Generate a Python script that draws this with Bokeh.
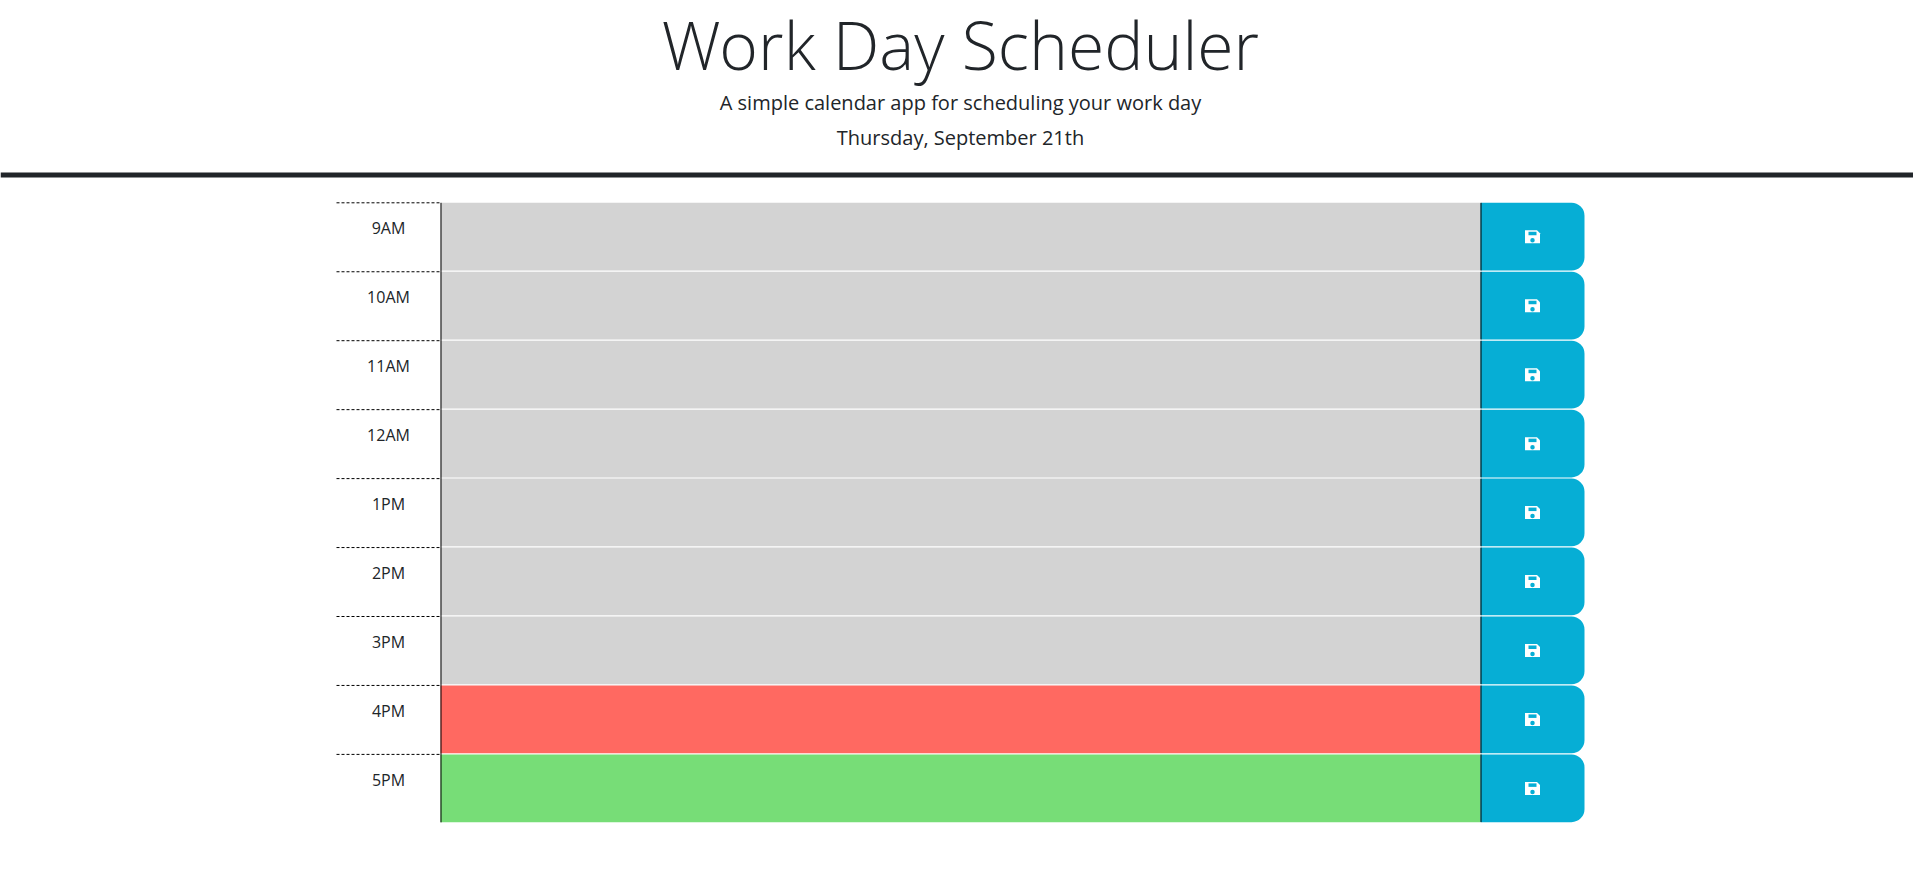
from bokeh.plotting import figure
from bokeh.models import ColumnDataSource, Range1d
from bokeh.core.properties import value
from bokeh.embed import file_html
from bokeh.resources import INLINE

# dados do agendador
titulo = "Work Day Scheduler"
subtitulo = "A simple calendar app for scheduling your work day"
data_hoje = "Thursday, September 21th"
horas = ["9AM", "10AM", "11AM", "12AM", "1PM", "2PM", "3PM", "4PM", "5PM"]
estados = ["past", "past", "past", "past", "past", "past", "past", "present", "future"]
cores_estado = {"past": "#d3d3d3", "present": "#ff6961", "future": "#77dd77"}

# medidas da pagina (em pixels)
W, H = 1913, 860
topo = 202.3
altura_linha = 68.95
x_hora_ini, x_texto, x_botao, x_fim = 336, 440, 1480, 1584
centro = 960

p = figure(width=W, height=H, output_backend="svg", toolbar_location=None,
           x_range=Range1d(0, W), y_range=Range1d(H, 0),
           x_axis_location=None, y_axis_location=None, min_border=0)
p.grid.visible = False
p.outline_line_color = None
p.background_fill_color = "white"
p.border_fill_color = "white"

# cabecalho
p.text(x=[centro], y=[43.5], text=[titulo], text_font=value("Open Sans Light"),
       text_font_size="66px", text_align="center", text_baseline="alphabetic",
       text_color="#212529")
p.text(x=[centro], y=[102], text=[subtitulo], text_font=value("Open Sans"),
       text_font_size="20px", text_align="center", text_baseline="alphabetic",
       text_color="#212529")
p.text(x=[centro], y=[137], text=[data_hoje], text_font=value("Open Sans"),
       text_font_size="20px", text_align="center", text_baseline="alphabetic",
       text_color="#212529")
p.quad(left=[0], right=[W], top=[172], bottom=[177], fill_color="#212529", line_color=None)

# linhas de horario
tops = [topo + i * altura_linha for i in range(len(horas))]
src = ColumnDataSource(dict(
    hora=horas,
    top=tops,
    bottom=[t + altura_linha - 1.2 for t in tops],
    meio=[t + altura_linha / 2 for t in tops],
    base_txt=[t + 25.5 for t in tops],
    cor=[cores_estado[e] for e in estados],
))

p.quad(left=x_texto, right=x_botao, top="top", bottom="bottom", fill_color="cor",
       line_color=None, source=src)
p.quad(left=x_botao, right=x_fim, top="top", bottom="bottom", fill_color="#06aed5",
       line_color=None, border_radius=(1, 13, 13, 1), source=src)
p.segment(x0=x_botao + 0.5, x1=x_botao + 0.5, y0="top", y1="bottom",
          line_color="black", line_width=1, source=src)
p.segment(x0=[x_texto + 0.5], x1=[x_texto + 0.5], y0=[topo], y1=[tops[-1] + altura_linha - 1],
          line_color="black", line_width=1)
p.segment(x0=x_hora_ini, x1=x_texto, y0="top", y1="top", line_color="black",
          line_width=1, line_dash="3 2", source=src)
p.text(x=388, y="base_txt", text="hora", text_font=value("Open Sans"),
       text_font_size="16px", text_align="center", text_baseline="alphabetic",
       text_color="#212529", source=src)

# icone de disquete
cx = (x_botao + x_fim) / 2
xs_disk, ys_disk, xs_slot, ys_slot = [], [], [], []
for m in src.data["meio"]:
    cy = m - 0.5
    xs_disk.append([cx - 7.5, cx + 4.5, cx + 7.5, cx + 7.5, cx - 7.5])
    ys_disk.append([cy - 6.5, cy - 6.5, cy - 3.5, cy + 6.5, cy + 6.5])
    xs_slot.append([cx - 4, cx + 4, cx + 4, cx - 4])
    ys_slot.append([cy - 5, cy - 5, cy - 1.5, cy - 1.5])
p.patches(xs=xs_disk, ys=ys_disk, fill_color="white", line_color=None)
p.patches(xs=xs_slot, ys=ys_slot, fill_color="#06aed5", line_color=None)
p.scatter(x=[cx] * len(horas), y=[m + 3 for m in src.data["meio"]], size=4.5,
          fill_color="#06aed5", line_color=None)

open("out.html", "w").write(file_html(p, INLINE))
